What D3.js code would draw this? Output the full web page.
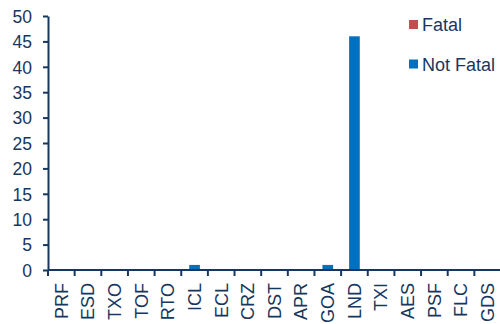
<!DOCTYPE html>
<html><head><meta charset="utf-8">
<script src="https://cdn.jsdelivr.net/npm/d3@7"></script>
<style>body{margin:0;background:#fff}svg{display:block}</style>
</head><body>
<svg id="c" width="500" height="324"></svg>
<script>
const categories = ["PRF","ESD","TXO","TOF","RTO","ICL","ECL","CRZ","DST","APR","GOA","LND","TXI","AES","PSF","FLC","GDS"];
const fatal =    [0,0,0,0,0,0,0,0,0,0,0,0,0,0,0,0,0];
const notFatal = [0,0,0,0,0,1,0,0,0,0,1,46,0,0,0,0,0];
const yTicks = [0,5,10,15,20,25,30,35,40,45,50];
const seriesNames = ["Fatal","Not Fatal"];
const colors = {"Fatal":"#c0504d","Not Fatal":"#0070c0"};
const navy = "#17375e";

(function(){
const svg = d3.select("#c");
const mL = 48, mR = 501, mT = 16, mB = 270;
const font = "Arial, 'Liberation Sans', sans-serif";
const x = d3.scaleBand().domain(categories).range([mL, mR]).paddingInner(0.6).paddingOuter(0.3);
const xo = d3.scaleBand().domain(categories).range([mL, mR]).padding(0);
const y = d3.scaleLinear().domain([0, 50]).range([mB, mT]);

const rows = categories.map((c,i)=>({cat:c, "Not Fatal":notFatal[i], "Fatal":fatal[i]}));
const stack = d3.stack().keys(["Not Fatal","Fatal"])(rows);
svg.append("g").selectAll("g").data(stack).join("g")
  .attr("fill", s => colors[s.key])
  .selectAll("rect").data(s => s).join("rect")
  .attr("x", d => x(d.data.cat))
  .attr("width", x.bandwidth())
  .attr("y", d => y(d[1]))
  .attr("height", d => y(d[0]) - y(d[1]));

const ya = svg.append("g").attr("transform", `translate(${mL},0)`)
  .call(d3.axisLeft(y).tickValues(yTicks).tickSize(5).tickPadding(11).tickSizeOuter(0));
ya.select(".domain").attr("stroke", navy).attr("stroke-width", 2);
ya.selectAll(".tick line").attr("stroke", navy).attr("stroke-width", 2);
ya.selectAll("text").attr("fill", navy).style("font-family",font).style("font-size","17.5px").attr("dy","0.36em");

svg.append("line").attr("x1", mL).attr("x2", mR).attr("y1", mB).attr("y2", mB)
  .attr("stroke", navy).attr("stroke-width", 2);
svg.append("g").selectAll("line").data(categories).join("line")
  .attr("x1", d => xo(d)).attr("x2", d => xo(d))
  .attr("y1", mB).attr("y2", mB + 6)
  .attr("stroke", navy).attr("stroke-width", 2);
svg.append("g").selectAll("text").data(categories).join("text")
  .attr("transform", d => `translate(${xo(d) + xo.bandwidth()/2 + 6.3},${mB + 13}) rotate(-90)`)
  .attr("text-anchor", "end")
  .attr("fill", navy)
  .style("font-family",font).style("font-size","18px")
  .text(d => d);

const lg = svg.append("g");
seriesNames.forEach((n,i) => {
  const yy = 20 + i*39.5;
  lg.append("rect").attr("x", 409).attr("y", yy).attr("width", 9).attr("height", 9).attr("fill", colors[n]);
  lg.append("text").attr("x", 422).attr("y", yy + 11).attr("fill", navy)
    .style("font-family",font).style("font-size","18px").text(n);
});
})();
</script>
</body></html>
